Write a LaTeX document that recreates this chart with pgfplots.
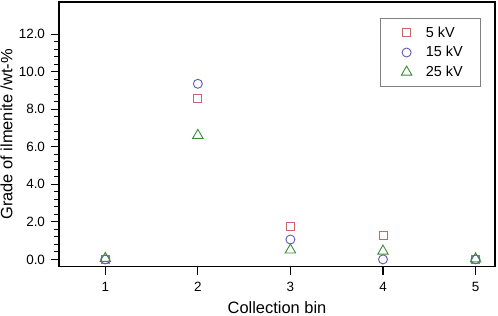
\documentclass[border=0pt]{standalone}
\usepackage{fontspec}
\setmainfont{Liberation Sans}
\usepackage{pgfplots}
\pgfplotsset{compat=1.18}
\definecolor{cSq}{HTML}{CC6666}
\definecolor{cCi}{HTML}{5C5CB8}
\definecolor{cTr}{HTML}{3A8C3A}
\begin{document}
\begin{tikzpicture}
\useasboundingbox (-59bp,-49.3bp) rectangle (439bp,266.7bp);
\begin{axis}[
  at={(0,0)}, anchor=south west,
  scale only axis,
  width=436bp, height=264.7bp,
  xmin=0.5, xmax=5.21,
  ymin=-0.39, ymax=13.72,
  axis line style={line width=1.2bp},
  xtick={1,2,3,4,5},
  ytick={0,2,4,6,8,10,12},
  minor y tick num=4,
  xtick pos=lower, ytick pos=left,
  tick align=outside,
  major tick length=8bp, minor tick length=4.5bp,
  every tick/.style={black, line width=1.2bp},
  minor tick style={line width=1bp},
  /pgf/number format/assume math mode=true,
  yticklabel style={/pgf/number format/fixed, /pgf/number format/fixed zerofill, /pgf/number format/precision=1, xshift=-2.5bp},
  xticklabel style={yshift=-4bp},
  tick label style={font=\fontsize{13.5}{16}\selectfont},
  xlabel={Collection bin},
  ylabel={Grade of ilmenite /wt-\%},
  xlabel style={yshift=-3bp},
  ylabel style={yshift=-0.5bp},
  label style={font=\fontsize{16.5}{19}\selectfont},
  legend style={at={(0.968,0.938)}, anchor=north east, draw=gray, line width=0.9bp,
    font=\fontsize{14.5}{16}\selectfont, row sep=0pt, inner xsep=0bp, inner ysep=4.3bp,
    nodes={inner xsep=4.8bp, inner ysep=3.8bp}},
  legend cell align=left,
  legend image code/.code={\path (0bp,0bp) (40bp,0bp); \draw[#1] plot coordinates {(26bp,0bp)};},
  legend entries={{5 kV},{15 kV\rule{13bp}{0pt}},{25 kV\rule{13bp}{0pt}}},
]
\addplot[only marks, mark=square, mark size=4bp, cSq, line width=0.9bp]
  coordinates {(1,0) (2,8.59) (3,1.74) (4,1.29) (5,0)};
\addplot[only marks, mark=o, mark size=4.5bp, cCi, line width=0.9bp]
  coordinates {(1,0) (2,9.36) (3,1.06) (4,0.0) (5,0)};
\addplot[only marks, mark=triangle, mark size=6bp, cTr, line width=0.9bp]
  coordinates {(1,0.05) (2,6.61) (3,0.50) (4,0.44) (5,0.03)};
\end{axis}
\end{tikzpicture}
\end{document}
